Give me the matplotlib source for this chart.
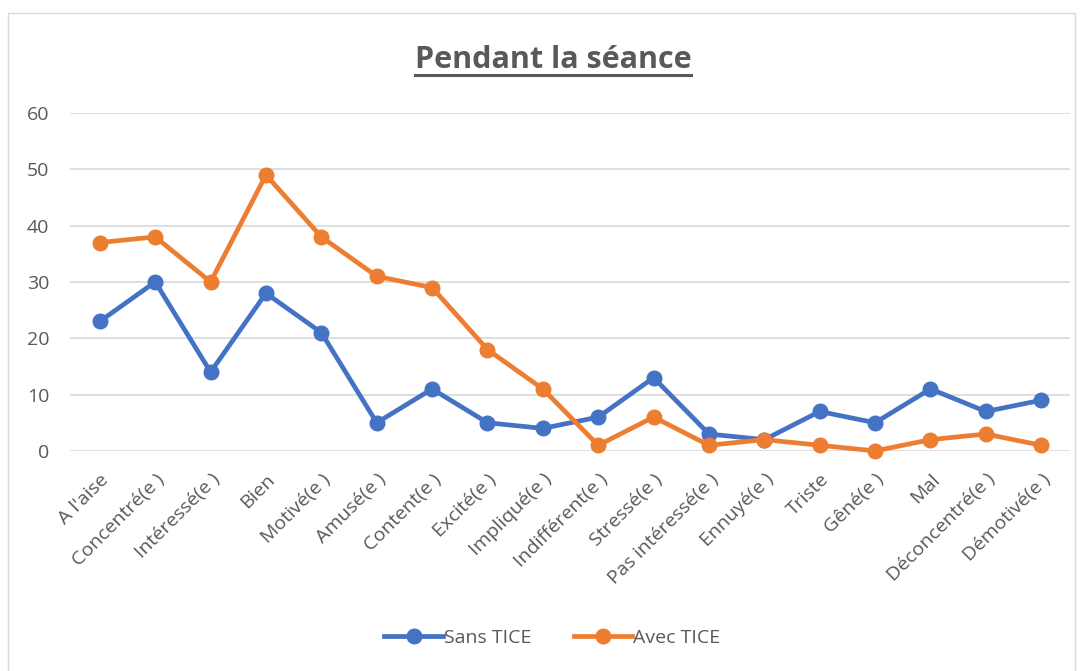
import matplotlib.pyplot as plt
from matplotlib.lines import Line2D
from matplotlib.patches import Rectangle

CATEGORIES = [
    "A l'aise", "Concentré(e )", "Intéressé(e )", "Bien", "Motivé(e )",
    "Amusé(e )", "Content(e )", "Excité(e )", "Impliqué(e )",
    "Indifférent(e )", "Stressé(e )", "Pas intéressé(e )", "Ennuyé(e )",
    "Triste", "Gêné(e )", "Mal", "Déconcentré(e )", "Démotivé(e )",
]
SANS_TICE = [23, 30, 14, 28, 21, 5, 11, 5, 4, 6, 13, 3, 2, 7, 5, 11, 7, 9]
AVEC_TICE = [37, 38, 30, 49, 38, 31, 29, 18, 11, 1, 6, 1, 2, 1, 0, 2, 3, 1]
Y_TICKS = [0, 10, 20, 30, 40, 50, 60]

BLUE = "#4472C4"
ORANGE = "#ED7D31"
TEXT = "#595959"
GRID = "#D9D9D9"

plt.rcParams["font.family"] = ["Open Sans", "DejaVu Sans"]

fig = plt.figure(figsize=(10.83, 6.71), dpi=100)
ax = fig.add_axes([0.0646, 0.328, 0.9234, 0.5036])

x = list(range(len(CATEGORIES)))
ax.plot(x, SANS_TICE, color=BLUE, linewidth=3.4, marker="o", markersize=10.5,
        label="Sans TICE", zorder=3, clip_on=False)
ax.plot(x, AVEC_TICE, color=ORANGE, linewidth=3.4, marker="o", markersize=10.5,
        label="Avec TICE", zorder=3, clip_on=False)

ax.set_xlim(-0.54, len(CATEGORIES) - 0.48)
ax.set_ylim(0, 60)
ax.set_yticks(Y_TICKS)
ax.set_yticklabels([str(v) for v in Y_TICKS], fontsize=14, color=TEXT)
ax.yaxis.grid(True, color=GRID, linewidth=1.2)
ax.set_axisbelow(True)
ax.tick_params(axis="y", length=0, pad=15)
ax.tick_params(axis="x", length=0, pad=14)
ax.set_xticks(x)
ax.set_xticklabels(CATEGORIES, rotation=45, ha="right", rotation_mode="anchor",
                   fontsize=14, color=TEXT)
for s in ax.spines.values():
    s.set_visible(False)

# title with underline
t = fig.text(0.5105, 0.898, "Pendant la séance", ha="center", va="baseline",
             fontsize=22, fontweight="bold", color=TEXT)
fig.canvas.draw()
bb = t.get_window_extent().transformed(fig.transFigure.inverted())
fig.add_artist(Line2D([bb.x0, bb.x1], [0.888, 0.888], color=TEXT, linewidth=2.2,
                      transform=fig.transFigure))

fig.legend(loc="center", bbox_to_anchor=(0.51, 0.049), ncol=2, frameon=False,
           fontsize=14, labelcolor=TEXT, handlelength=3.0, columnspacing=2.2,
           handletextpad=0.05)

# chart border
fig.add_artist(Rectangle((0.007, -0.01), 0.986, 0.99, transform=fig.transFigure,
                         fill=False, edgecolor=GRID, linewidth=1))

fig.savefig("out.png", dpi=100)
